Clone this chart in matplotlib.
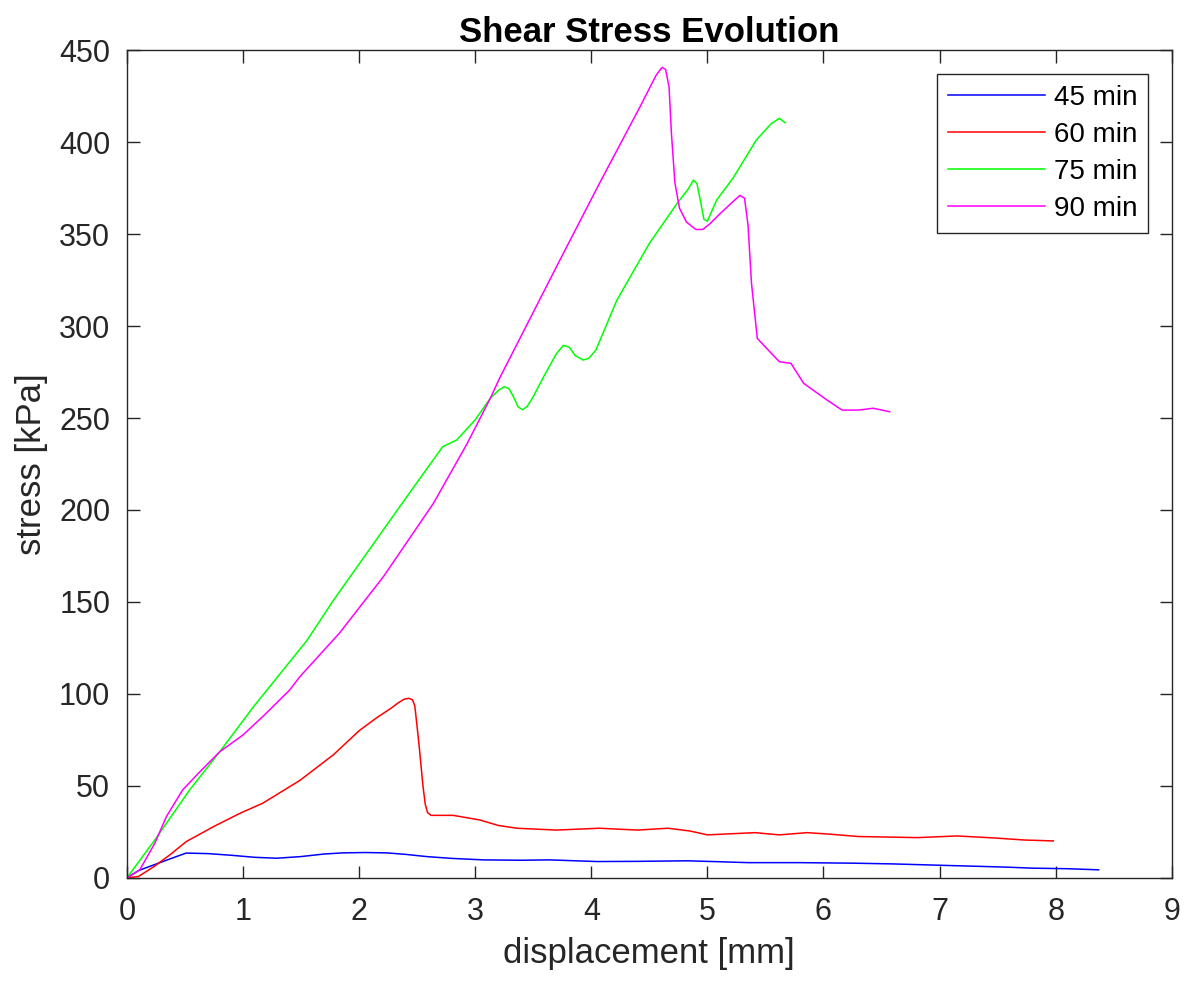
import matplotlib.pyplot as plt

# displacement [mm] / stress [kPa]
x45 = [0.0, 0.1, 0.25, 0.4, 0.51, 0.7, 0.9, 1.1, 1.29, 1.5, 1.7, 1.86, 2.05, 2.24, 2.4, 2.58, 2.8, 3.07, 3.4, 3.64, 4.05, 4.4, 4.83, 5.1, 5.35, 5.8, 6.26, 6.6, 6.88, 7.1, 7.39, 7.6, 7.8, 8.1, 8.37]
y45 = [0.0, 4.0, 7.5, 11.0, 13.5, 13.2, 12.3, 11.2, 10.7, 11.6, 13.0, 13.6, 13.8, 13.6, 12.8, 11.6, 10.6, 9.8, 9.6, 9.8, 8.9, 9.0, 9.3, 8.8, 8.3, 8.3, 8.0, 7.6, 7.1, 6.7, 6.2, 5.8, 5.3, 5.0, 4.4]

x60 = [0.0, 0.1, 0.23, 0.38, 0.51, 0.75, 0.97, 1.17, 1.49, 1.78, 2.0, 2.15, 2.27, 2.34, 2.39, 2.43, 2.46, 2.48, 2.5, 2.52, 2.55, 2.57, 2.59, 2.62, 2.81, 3.04, 3.2, 3.36, 3.7, 4.07, 4.4, 4.66, 4.85, 5.0, 5.41, 5.62, 5.86, 6.05, 6.3, 6.81, 7.15, 7.45, 7.73, 7.98]
y60 = [0.0, 0.8, 6.0, 13.0, 19.7, 28.0, 35.0, 40.6, 53.0, 67.0, 80.0, 87.0, 92.0, 95.3, 97.2, 97.6, 96.8, 93.5, 82.0, 70.0, 50.0, 40.0, 35.5, 34.0, 34.0, 31.5, 28.5, 27.0, 26.0, 27.0, 26.0, 27.0, 25.5, 23.4, 24.6, 23.4, 24.6, 23.8, 22.5, 21.9, 22.8, 21.8, 20.6, 20.1]

x75 = [0.0, 0.24, 0.54, 0.8, 1.09, 1.55, 1.78, 2.35, 2.72, 2.84, 3.0, 3.13, 3.2, 3.25, 3.29, 3.33, 3.37, 3.41, 3.45, 3.5, 3.59, 3.7, 3.76, 3.81, 3.86, 3.93, 3.98, 4.04, 4.22, 4.5, 4.74, 4.83, 4.88, 4.91, 4.94, 4.97, 5.0, 5.08, 5.22, 5.42, 5.55, 5.62, 5.67]
y75 = [0.0, 20.6, 47.8, 68.6, 93.0, 129.0, 151.0, 201.8, 234.4, 238.0, 249.0, 260.7, 265.0, 267.0, 266.0, 261.5, 256.0, 254.5, 256.5, 261.6, 272.5, 285.0, 289.5, 288.5, 284.0, 281.5, 282.5, 287.0, 314.0, 344.9, 366.7, 374.0, 379.3, 377.5, 368.0, 358.0, 357.0, 368.5, 380.3, 401.0, 410.0, 412.9, 410.5]

x90 = [0.0, 0.11, 0.24, 0.34, 0.48, 0.63, 0.8, 1.0, 1.17, 1.4, 1.49, 1.83, 2.21, 2.64, 2.93, 3.13, 3.21, 3.73, 4.07, 4.42, 4.56, 4.61, 4.64, 4.67, 4.69, 4.72, 4.76, 4.82, 4.9, 4.96, 5.02, 5.1, 5.22, 5.28, 5.32, 5.35, 5.38, 5.43, 5.51, 5.62, 5.72, 5.83, 5.91, 6.03, 6.16, 6.3, 6.43, 6.57]
y90 = [0.0, 4.3, 18.8, 33.3, 47.8, 57.8, 68.6, 77.7, 87.7, 102.0, 109.4, 133.0, 163.8, 203.6, 236.0, 260.7, 271.6, 335.9, 377.5, 419.2, 436.5, 440.6, 439.5, 430.0, 405.0, 378.0, 364.0, 356.5, 352.5, 352.5, 355.5, 360.5, 367.6, 371.0, 369.5, 355.0, 323.2, 293.3, 287.9, 280.6, 279.7, 268.8, 265.2, 259.8, 254.3, 254.3, 255.3, 253.4]

labels = ['45 min', '60 min', '75 min', '90 min']

plt.rcParams['font.family'] = ['Liberation Sans', 'DejaVu Sans']

fig = plt.figure(figsize=(11.86, 9.82), dpi=100)
ax = fig.add_axes([0.107, 0.106, 0.881, 0.843])

ax.plot(x45, y45, color=(0, 0, 1), lw=1.1, label=labels[0])
ax.plot(x60, y60, color=(1, 0, 0), lw=1.1, label=labels[1])
ax.plot(x75, y75, color=(0, 1, 0), lw=1.1, label=labels[2])
ax.plot(x90, y90, color=(1, 0, 1), lw=1.1, label=labels[3])

ax.set_xlim(0, 9)
ax.set_ylim(0, 450)
ax.set_xticks(range(0, 10))
ax.set_yticks(range(0, 451, 50))

dark = '#262626'
for s in ax.spines.values():
    s.set_color(dark)
    s.set_linewidth(1.0)
ax.tick_params(direction='in', length=9, width=1, colors=dark, labelsize=22,
               top=True, right=True)
ax.tick_params(axis='x', pad=14)
ax.tick_params(axis='y', pad=12)

ax.set_xlabel('displacement [mm]', fontsize=25, color=dark, labelpad=7)
ax.set_ylabel('stress [kPa]', fontsize=25, color=dark, labelpad=8)
ax.set_title('Shear Stress Evolution', fontsize=25, fontweight='bold', pad=6)

leg = ax.legend(loc='upper right', fontsize=20, fancybox=False, framealpha=1,
                edgecolor=dark, borderaxespad=0.85, handlelength=3.5,
                handletextpad=0.3, labelspacing=0.4, borderpad=0.4)
leg.get_frame().set_linewidth(1.0)

fig.savefig('out.png', dpi=100)
